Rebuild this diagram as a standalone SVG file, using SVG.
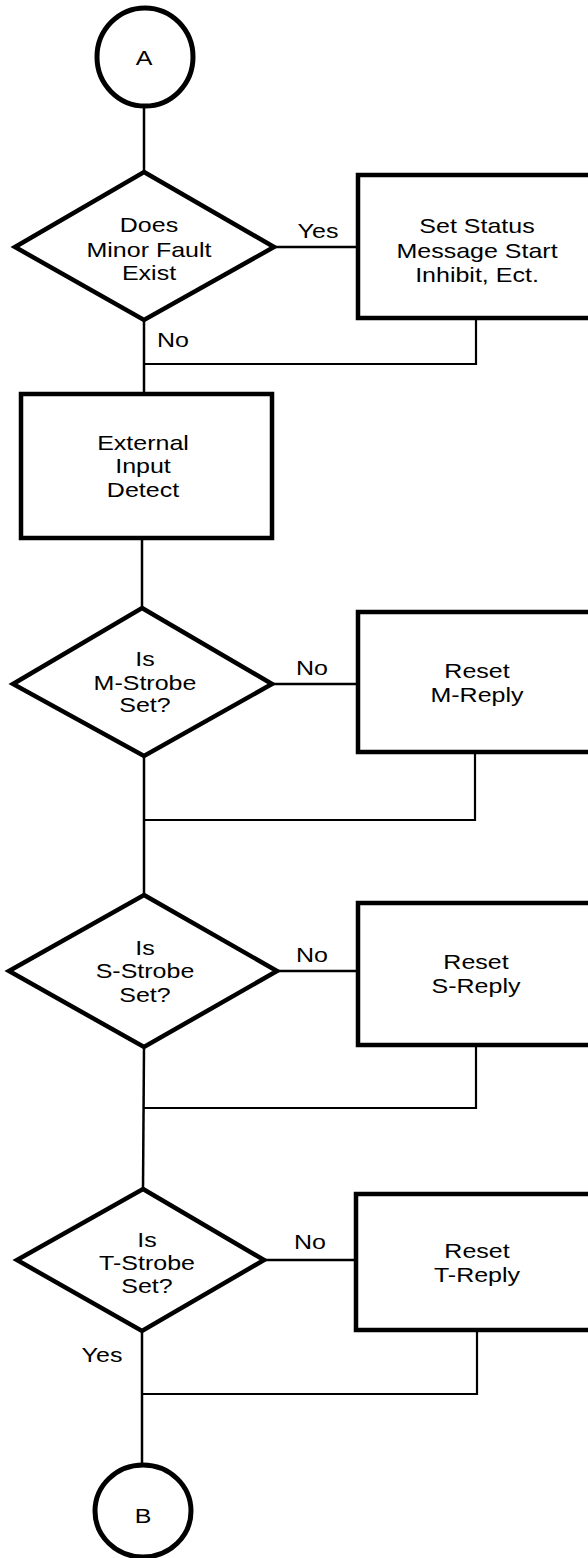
<svg xmlns="http://www.w3.org/2000/svg" width="588" height="1558" viewBox="0 0 588 1558">
<style>
.shape{fill:#fff;stroke:#000;stroke-width:4.5;stroke-linejoin:miter}
.circ{fill:#fff;stroke:#000;stroke-width:5}
.conn{fill:none;stroke:#000;stroke-width:2.5}
.fb{fill:none;stroke:#000;stroke-width:2.2}
text{font-family:"Liberation Sans",Arial,sans-serif;font-size:20.5px;fill:#000;text-anchor:middle}
</style>
<rect width="588" height="1558" fill="#fff"/>
<g id="connectors">
<line class="conn" x1="144" y1="107" x2="144" y2="172"/>
<line class="conn" x1="274" y1="247" x2="358" y2="247"/>
<line class="conn" x1="144" y1="320" x2="144" y2="394"/>
<polyline class="fb" points="476,318 476,364 144,364"/>
<line class="conn" x1="142" y1="538" x2="142" y2="608"/>
<line class="conn" x1="272" y1="684" x2="358" y2="684"/>
<line class="conn" x1="144" y1="756" x2="144" y2="895"/>
<polyline class="fb" points="475,752 475,820 144,820"/>
<line class="conn" x1="277" y1="971" x2="358" y2="971"/>
<line class="conn" x1="144" y1="1047" x2="143" y2="1189"/>
<polyline class="fb" points="476,1045 476,1108 144,1108"/>
<line class="conn" x1="264" y1="1260" x2="356" y2="1260"/>
<line class="conn" x1="142" y1="1330" x2="142" y2="1465"/>
<polyline class="fb" points="477,1330 477,1394 142,1394"/>
<text transform="translate(318 238) scale(1.22 1)">Yes</text>
<text transform="translate(173 347) scale(1.22 1)">No</text>
<text transform="translate(312 675) scale(1.22 1)">No</text>
<text transform="translate(312 962) scale(1.22 1)">No</text>
<text transform="translate(310 1249) scale(1.22 1)">No</text>
<text transform="translate(102 1362) scale(1.22 1)">Yes</text>
</g>
<g id="connectorA">
<ellipse class="circ" cx="145" cy="57" rx="48" ry="49"/>
<text transform="translate(144 65) scale(1.22 1)">A</text>
</g>
<g id="decision1">
<polygon class="shape" points="144,172 274,247 144,320 15,247"/>
<text transform="translate(149 232) scale(1.22 1)">Does</text>
<text transform="translate(149 257) scale(1.22 1)">Minor Fault</text>
<text transform="translate(149 280) scale(1.22 1)">Exist</text>
</g>
<g id="setStatus">
<rect class="shape" x="358" y="175" width="240" height="143"/>
<text transform="translate(477 233) scale(1.22 1)">Set Status</text>
<text transform="translate(477 258) scale(1.22 1)">Message Start</text>
<text transform="translate(477 282) scale(1.22 1)">Inhibit, Ect.</text>
</g>
<g id="externalInput">
<rect class="shape" x="21" y="394" width="251" height="144"/>
<text transform="translate(143 450) scale(1.22 1)">External</text>
<text transform="translate(143 473) scale(1.22 1)">Input</text>
<text transform="translate(143 497) scale(1.22 1)">Detect</text>
</g>
<g id="decisionM">
<polygon class="shape" points="142,608 272,684 144,756 13,684"/>
<text transform="translate(145 666) scale(1.22 1)">Is</text>
<text transform="translate(145 690) scale(1.22 1)">M-Strobe</text>
<text transform="translate(145 712) scale(1.22 1)">Set?</text>
</g>
<g id="resetM">
<rect class="shape" x="358" y="612" width="240" height="140"/>
<text transform="translate(477 678) scale(1.22 1)">Reset</text>
<text transform="translate(477 702) scale(1.22 1)">M-Reply</text>
</g>
<g id="decisionS">
<polygon class="shape" points="144,895 277,971 144,1047 9,971"/>
<text transform="translate(145 955) scale(1.22 1)">Is</text>
<text transform="translate(145 978) scale(1.22 1)">S-Strobe</text>
<text transform="translate(145 1002) scale(1.22 1)">Set?</text>
</g>
<g id="resetS">
<rect class="shape" x="358" y="903" width="240" height="142"/>
<text transform="translate(476 969) scale(1.22 1)">Reset</text>
<text transform="translate(476 993) scale(1.22 1)">S-Reply</text>
</g>
<g id="decisionT">
<polygon class="shape" points="143,1189 264,1260 142,1331 17,1260"/>
<text transform="translate(147 1247) scale(1.22 1)">Is</text>
<text transform="translate(147 1270) scale(1.22 1)">T-Strobe</text>
<text transform="translate(147 1293) scale(1.22 1)">Set?</text>
</g>
<g id="resetT">
<rect class="shape" x="356" y="1194" width="240" height="136"/>
<text transform="translate(477 1258) scale(1.22 1)">Reset</text>
<text transform="translate(477 1282) scale(1.22 1)">T-Reply</text>
</g>
<g id="connectorB">
<ellipse class="circ" cx="143" cy="1511" rx="48" ry="46"/>
<text transform="translate(143 1523) scale(1.22 1)">B</text>
</g>
</svg>
